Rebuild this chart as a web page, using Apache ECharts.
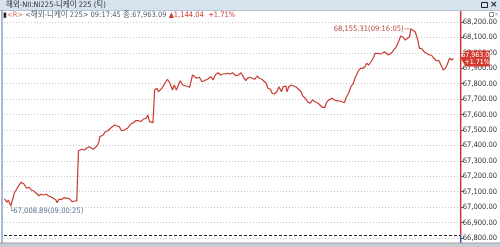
<!DOCTYPE html>
<html><head><meta charset="utf-8">
<script src="https://cdn.jsdelivr.net/npm/echarts@6/dist/echarts.min.js"></script>
<style>html,body{margin:0;padding:0;background:#fff}#c{width:500px;height:247px}</style>
</head><body><div id="c"></div>
<script>
// seconds after 09:00:00
const secs = [
10,16,19,25,30,33,37,42,49,53,
56,62,68,73,79,85,91,96,102,108,
114,119,125,131,134,138,145,150,154,159,
164,169,175,180,182,184,188,192,198,203,
209,213,219,224,229,232,234,238,242,247,
253,259,265,270,275,280,285,292,299,307,
313,318,326,331,336,343,347,351,359,361,
363,368,372,380,387,393,399,405,409,414,
418,423,429,437,445,452,456,462,468,474,
479,487,495,500,506,512,518,523,529,535,
540,546,550,554,560,566,571,577,581,586,
592,598,604,609,615,619,625,629,635,639,
644,650,655,661,665,671,674,678,684,690,
696,701,707,711,717,722,728,734,740,747,
751,757,763,766,770,774,779,783,789,797,
803,809,812,819,824,829,835,842,847,852,
857,861,866,870,874,878,881,887,893,898,
903,906,912,920,926,931,936,941,947,952,
956,962,965,969,975,979,982,985,990,996,
1002,1008,1013,1019,1025,1031,1035,1041,1046,1050,
1056,1061,1065];
const vals = [
67052.9,67031.5,67046.4,67008.89,67057.4,67089.8,67093.7,67132.6,67161.1,67165.0,
67150.1,67122.2,67128.7,67111.2,67104.7,67089.8,67074.2,67083.3,67078.8,67083.3,
67072.3,67067.8,67057.4,67046.4,67028.9,67050.9,67050.9,67061.3,67050.9,67057.4,
67050.9,67035.4,67039.9,67039.9,67043.0,67365.9,67359.4,67375.0,67370.4,67381.5,
67391.8,67387.9,67375.0,67387.9,67402.8,67424.2,67456.6,67452.7,67467.6,67489.0,
67495.5,67511.1,67524.0,67532.5,67526.0,67521.4,67495.5,67500.0,67511.1,67538.9,
67547.4,67560.3,67560.3,67553.8,67569.4,67575.9,67597.3,67553.8,67547.4,67541.0,
67759.3,67770.3,67748.3,67770.3,67802.7,67828.6,67802.7,67759.3,67791.7,67759.3,
67770.3,67819.6,67791.7,67785.2,67776.8,67856.5,67863.0,67835.1,67841.6,67813.1,
67819.6,67828.6,67845.5,67824.1,67859.7,67871.4,67856.5,67863.0,67863.0,67867.5,
67863.0,67871.4,67876.0,67852.0,67856.5,67871.4,67845.5,67819.6,67835.1,67841.6,
67835.1,67828.6,67850.0,67835.1,67828.6,67819.6,67802.7,67770.3,67763.8,67737.9,
67733.4,67748.3,67780.7,67748.3,67780.7,67785.2,67748.3,67780.7,67791.7,67785.2,
67776.8,67763.8,67748.3,67720.4,67705.5,67683.5,67673.1,67694.5,67683.5,67673.1,
67662.1,67647.2,67647.2,67673.1,67689.9,67683.5,67705.5,67694.5,67689.9,67688.0,
67683.5,67677.0,67705.5,67741.8,67780.7,67798.2,67845.5,67884.4,67899.9,67899.9,
67910.3,67932.3,67921.3,67932.3,67953.7,67975.1,67997.1,67997.1,67992.6,67997.1,
68007.5,68001.0,67986.1,68001.0,68023.1,68039.9,68072.3,68109.3,68100.8,68083.3,
68072.3,68104.7,68155.31,68143.6,68137.1,68104.7,68072.3,68029.5,68029.5,68007.5,
67997.1,67986.1,67986.1,67964.7,67949.2,67949.2,67949.2,67888.9,67899.9,67921.3,
67964.7,67953.7,67963.09];
const prevClose = 66819.05;
const yMin = 66800, yMax = 68200, yStep = 100;
const xMin = 9, xMax = 1082;
const windowTitle = '해외-NII:NI225-니케이 225 (틱)';
const seriesName = '<해외-니케이 225>';

const NARROW = '"Liberation Sans Narrow","DejaVu Sans Condensed","Liberation Sans","Noto Sans CJK KR",sans-serif';
const fmt = v => v.toLocaleString('en-US',{minimumFractionDigits:2,maximumFractionDigits:2});
const tfmt = s => '09:' + String(Math.floor(s/60)).padStart(2,'0') + ':' + String(s%60).padStart(2,'0');

let iMax=0,iMin=0;
vals.forEach((v,i)=>{ if(v>vals[iMax]) iMax=i; if(v<vals[iMin]) iMin=i; });
const last = vals[vals.length-1], lastT = secs[secs.length-1];
const chg = last - prevClose, pct = chg/prevClose*100;

const chart = echarts.init(document.getElementById('c'), null, {renderer:'canvas'});
const option = {
  animation:false,
  grid:{left:4,right:29,top:22,bottom:9},
  xAxis:{type:'value',min:xMin,max:xMax,show:false},
  yAxis:{type:'value',position:'right',min:yMin,max:yMax,interval:yStep,
    axisLine:{show:false},
    axisTick:{show:true,length:3,lineStyle:{color:'#555'}},
    axisLabel:{margin:2,fontSize:7.5,color:'#333',fontFamily:NARROW,formatter:v=>fmt(v)},
    splitLine:{show:true,lineStyle:{color:'#c8c8c8',type:[1,2]}}},
  series:[{
    type:'line',data:secs.map((s,i)=>[s,vals[i]]),showSymbol:false,clip:false,
    lineStyle:{color:'#c83c32',width:1.2},itemStyle:{color:'#c83c32'},
    markLine:{silent:true,symbol:'none',label:{show:false},
      lineStyle:{color:'#222',type:[3,2],width:1},data:[{yAxis:prevClose}]},
    markPoint:{silent:true,data:[
      {coord:[secs[iMax],vals[iMax]],symbol:'circle',symbolSize:1,itemStyle:{color:'rgba(0,0,0,0)'},
       label:{show:true,position:'left',distance:0,color:'#b5473e',fontSize:7.5,fontFamily:NARROW,
         formatter:fmt(vals[iMax])+'('+tfmt(secs[iMax])+')—'}},
      {coord:[secs[iMin],vals[iMin]],symbol:'circle',symbolSize:1,itemStyle:{color:'rgba(0,0,0,0)'},
       label:{show:true,position:[-1,2],align:'left',verticalAlign:'top',color:'#5a7090',fontSize:7.5,fontFamily:NARROW,
         formatter:'└'+fmt(vals[iMin])+'('+tfmt(secs[iMin])+')'}}
    ]}
  }]
};
chart.setOption(option);
const yPrev = chart.convertToPixel({yAxisIndex:0}, prevClose);
const yLast = chart.convertToPixel({yAxisIndex:0}, last);
const xRight = chart.convertToPixel({xAxisIndex:0}, xMax);
chart.setOption({graphic:[
  {type:'rect',shape:{x:0,y:0,width:500,height:10},style:{fill:'#d6e2ee'},z:100},
  {type:'line',shape:{x1:0,y1:10.5,x2:500,y2:10.5},style:{stroke:'#b4c3d6',lineWidth:1},z:100},
  {type:'text',x:6,y:5,style:{text:windowTitle,fontSize:7.5,fontFamily:NARROW,fill:'#333',verticalAlign:'middle'},z:101},
  {type:'rect',shape:{x:481.5,y:2.5,width:6,height:5},style:{fill:'none',stroke:'#222',lineWidth:1},z:101},
  {type:'text',x:490,y:5,style:{text:'×',fontSize:9,fontWeight:'bold',fontFamily:'DejaVu Sans',fill:'#222',verticalAlign:'middle'},z:101},
  {type:'text',x:3,y:15,style:{
     text:'{m|▮}{r|<R>}{g| '+seriesName+' '+tfmt(lastT)+' 종:'+fmt(last)+' }{u|▲'+fmt(chg)+'  +'+pct.toFixed(2)+'%}',
     verticalAlign:'middle',fontFamily:NARROW,fontSize:7.5,
     rich:{m:{fill:'#222',fontSize:7},r:{fill:'#e07070',fontSize:7.5,fontFamily:NARROW},
           g:{fill:'#556070',fontSize:7.5,fontFamily:NARROW},u:{fill:'#d03a30',fontSize:7.5,fontFamily:NARROW}}},z:101},
  {type:'rect',shape:{x:489.5,y:12.5,width:4,height:4},style:{fill:'none',stroke:'#888',lineWidth:1},z:101},
  {type:'text',x:494,y:14.5,style:{text:'×',fontSize:6,fontFamily:'DejaVu Sans',fill:'#999',verticalAlign:'middle'},z:101},
  {type:'line',shape:{x1:2,y1:10,x2:2,y2:247},style:{stroke:'#8ca2c8',lineWidth:1.5},z:100},
  {type:'line',shape:{x1:xRight,y1:11,x2:xRight,y2:yPrev},style:{stroke:'#d0342c',lineWidth:1.5},z:90},
  {type:'line',shape:{x1:xRight,y1:yPrev,x2:xRight,y2:243},style:{stroke:'#2f55a8',lineWidth:1.5},z:90},
  {type:'group',x:xRight,y:yLast,z:110,children:[
    {type:'polygon',shape:{points:[[0,0],[5,-8],[29,-8],[29,8],[5,8]]},style:{fill:'#d23a30'},z:110},
    {type:'text',x:16.5,y:0,style:{text:fmt(last)+'\n+'+pct.toFixed(2)+'%',align:'center',verticalAlign:'middle',
       fontSize:7,lineHeight:7.5,fontFamily:NARROW,fill:'#fff'},z:111}
  ]},
  {type:'rect',shape:{x:0,y:243,width:500,height:4},style:{fill:'#c9ccd0'},z:100},
  {type:'line',shape:{x1:0,y1:243,x2:500,y2:243},style:{stroke:'#9aa0a8',lineWidth:1},z:100}
]});
</script></body></html>
